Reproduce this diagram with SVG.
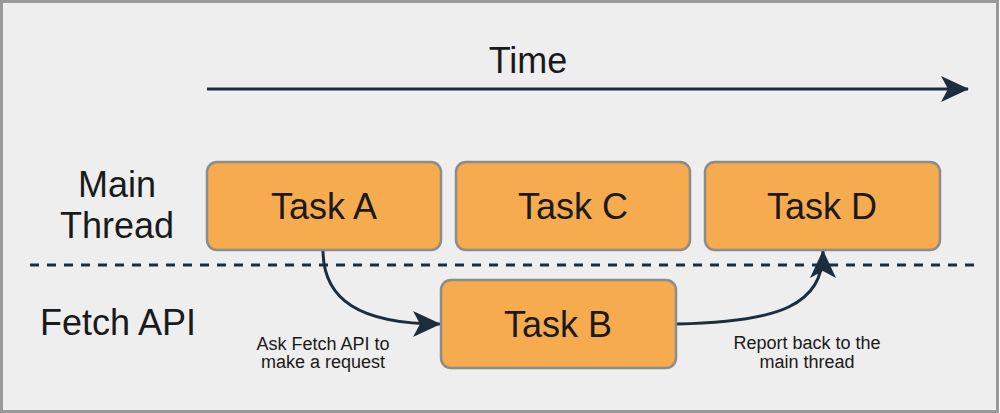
<svg xmlns="http://www.w3.org/2000/svg" width="1000" height="413" viewBox="0 0 1000 413">
<style>
.box{fill:#f5ab4e;stroke:#8c8c8c;stroke-width:2.5}
.big{font-family:"Liberation Sans",Arial,sans-serif;font-size:36px;fill:#1a1a1a;text-anchor:middle}
.small{font-family:"Liberation Sans",Arial,sans-serif;font-size:18px;fill:#1a1a1a;text-anchor:middle}
.conn{fill:none;stroke:#1c2e3e;stroke-width:3}
</style>
<defs>
<marker id="ah" viewBox="0 0 30 30" refX="27" refY="15" markerWidth="30" markerHeight="30" markerUnits="userSpaceOnUse" orient="auto">
<path d="M0,2 L28,15 L0,28 L7,15 Z" fill="#1c2e3e"/>
</marker>
</defs>
<rect x="1.5" y="1.5" width="996" height="410" fill="#eeeeee" stroke="#999999" stroke-width="3"/>
<text class="big" x="528" y="73" font-size="37">Time</text>
<text class="big" x="117" y="197">Main</text>
<text class="big" x="117" y="238">Thread</text>
<text class="big" x="118" y="335" font-size="33.5">Fetch API</text>
<g id="connectors">
<line class="conn" x1="207" y1="89" x2="968" y2="89" marker-end="url(#ah)"/>
<line x1="30" y1="265" x2="975" y2="265" stroke="#1c2e3e" stroke-width="3" stroke-dasharray="9,8"/>
<path class="conn" d="M323,250 C323,300 360,324 440,324" marker-end="url(#ah)"/>
<path class="conn" d="M677,324 C780,322 823,305 823,251" marker-end="url(#ah)"/>
</g>
<g id="taskA"><rect class="box" x="207" y="162" width="234" height="88" rx="10"/><text class="big" x="324" y="219">Task A</text></g>
<g id="taskC"><rect class="box" x="456" y="162" width="234" height="88" rx="10"/><text class="big" x="573" y="219">Task C</text></g>
<g id="taskD"><rect class="box" x="705" y="162" width="235" height="88" rx="10"/><text class="big" x="822" y="219">Task D</text></g>
<g id="taskB"><rect class="box" x="441" y="280" width="235" height="88" rx="10"/><text class="big" x="558" y="337">Task B</text></g>
<text class="small" x="323" y="350">Ask Fetch API to</text>
<text class="small" x="323" y="368">make a request</text>
<text class="small" x="807" y="349">Report back to the</text>
<text class="small" x="807" y="368">main thread</text>
</svg>
